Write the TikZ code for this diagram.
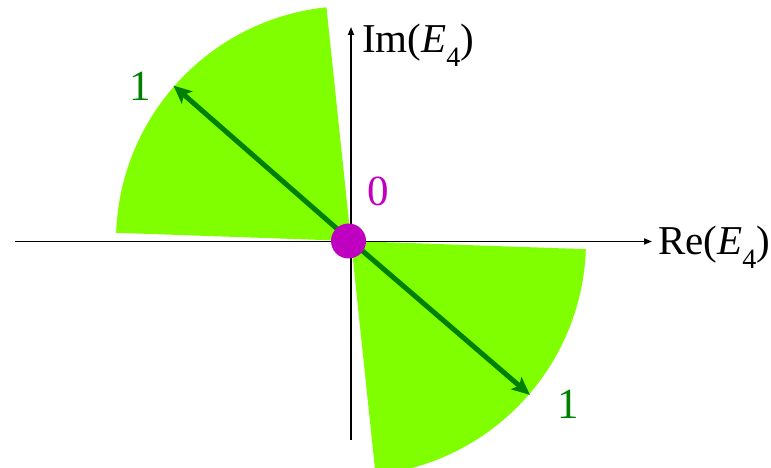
\documentclass[tikz,border=0pt]{standalone}
\usepackage{fontspec}
\setmainfont{Liberation Serif}
\usetikzlibrary{arrows.meta,calc}
\definecolor{sectorgreen}{RGB}{128,255,0}
\definecolor{darkgrn}{RGB}{0,128,0}
\definecolor{magentadot}{RGB}{192,0,192}
\tikzset{
  sector/.style={fill=sectorgreen},
  axisline/.style={line width=1.6pt,-{Triangle[length=8pt,width=6pt]}},
  vecline/.style={darkgrn,line width=5pt,-{Stealth[length=18pt,width=16pt,inset=4pt]}},
  numlabel/.style={font=\fontsize{43}{46}\selectfont,inner sep=0pt},
  axlabel/.style={font=\fontsize{41}{44}\selectfont,inner sep=0pt,anchor=base west}
}
\newcommand{\subfour}{\raisebox{-0.33em}{\fontsize{28}{28}\selectfont 4}}
\begin{document}
\begin{tikzpicture}[x=1pt,y=1pt]
\clip (0,0) rectangle (771,468);
\coordinate (O) at (351,227);
% sectors
\fill[sector] (O) -- ++(96:235) arc[start angle=96,end angle=178,radius=235] -- cycle;
\fill[sector] (O) -- ++(-84:235) arc[start angle=-84,end angle=-2,radius=235] -- cycle;
% axes
\coordinate (xl) at (15,226.5);
\coordinate (xr) at (652,226.5);
\coordinate (yb) at (351,28);
\coordinate (yt) at (351,441);
\draw[axisline] (xl) -- (xr);
\draw[axisline] (yb) -- (yt);
% vectors
\coordinate (tipA) at ($(O)+(138.8:236)$);
\coordinate (tipB) at ($(O)+(-40.7:236)$);
\draw[vecline] (O) -- (tipA);
\draw[vecline] (O) -- (tipB);
% origin dot
\node[circle,fill=magentadot,minimum size=35pt,inner sep=0pt] (dot) at (348.5,227) {};
% labels
\node[numlabel,text=darkgrn] (one1) at (140,382) {1};
\node[numlabel,text=darkgrn] (one2) at (568,64) {1};
\node[numlabel,text=magentadot] (zero) at (378,277) {0};
\node[axlabel] (imlab) at (362,415) {Im(\textit{E}\subfour)};
\node[axlabel] (relab) at (658,213) {Re(\textit{E}\subfour)};
\end{tikzpicture}
\end{document}
